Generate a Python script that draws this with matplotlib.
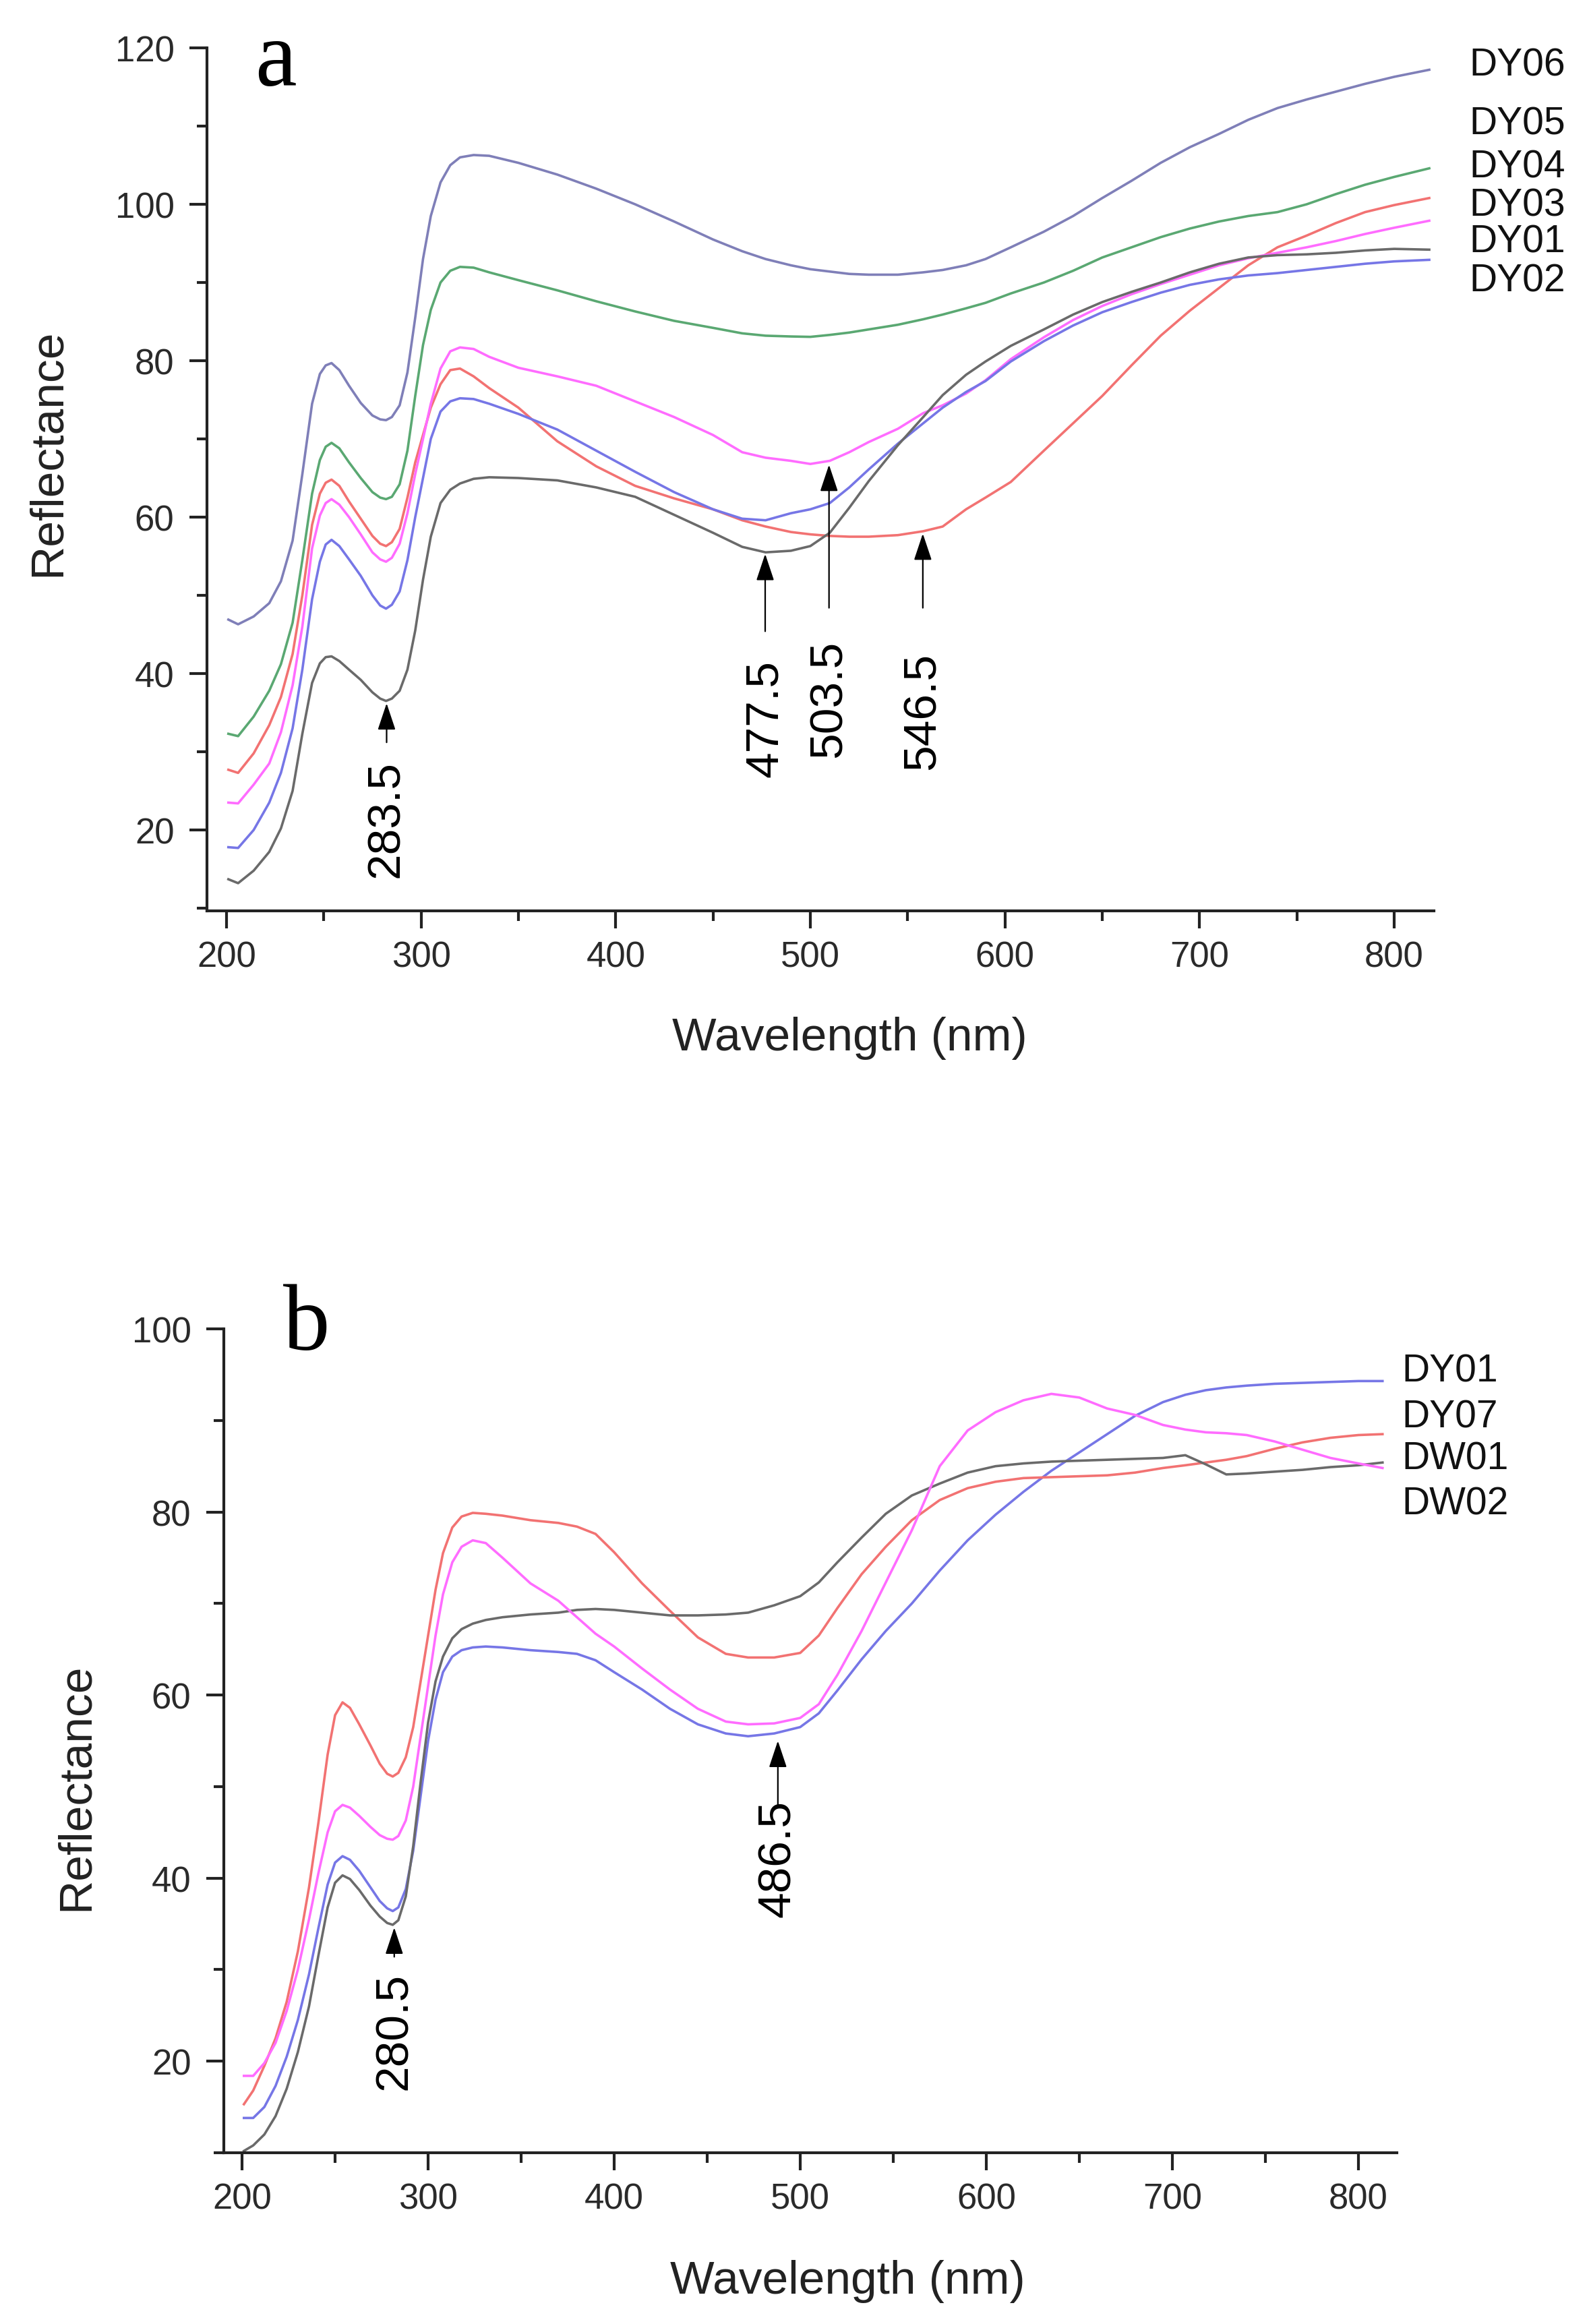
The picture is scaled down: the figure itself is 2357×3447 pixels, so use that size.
import matplotlib
matplotlib.use("Agg")
import matplotlib.pyplot as plt
from matplotlib.ticker import MultipleLocator

plt.rcParams['font.family'] = ['Liberation Sans', 'DejaVu Sans']

# ---------------- data : panel a ----------------
wl_a = [201, 206, 214, 222, 228, 234, 239, 244, 248, 251, 254, 258, 263, 269, 275, 279,
        282, 285, 289, 293, 297, 301, 305, 310, 315, 320, 327, 335,
        350, 370, 390, 410, 430, 450, 465, 477, 490, 500, 510, 520, 530, 545, 558, 568,
        580, 590, 603, 620, 635, 650, 665, 680, 695, 710, 725, 740, 755, 770, 785, 800, 818]

a_purple = [46.9, 46.3, 47.3, 49.0, 51.8, 57.0, 65.5, 74.5, 78.3, 79.4, 79.7, 78.8, 76.8, 74.6, 73.0, 72.5,
            72.4, 72.8, 74.3, 78.5, 85.5, 93.0, 98.5, 102.8, 105.0, 106.0, 106.3, 106.2,
            105.3, 103.8, 102.0, 100.0, 97.8, 95.5, 94.0, 93.0, 92.2, 91.7, 91.4, 91.1, 91.0, 91.0, 91.3, 91.6,
            92.2, 93.0, 94.5, 96.5, 98.5, 100.8, 103.0, 105.3, 107.3, 109.0, 110.8, 112.3, 113.4, 114.4, 115.4,
            116.3, 117.2]
a_green = [32.3, 32.0, 34.5, 37.8, 41.2, 46.5, 54.5, 63.0, 67.3, 69.0, 69.5, 68.8, 67.0, 65.0, 63.2, 62.5,
           62.3, 62.6, 64.2, 68.5, 75.5, 82.0, 86.5, 90.0, 91.5, 92.0, 91.9, 91.3,
           90.3, 89.0, 87.6, 86.3, 85.1, 84.2, 83.5, 83.2, 83.1, 83.05, 83.3, 83.6, 84.0, 84.6, 85.3, 85.9,
           86.7, 87.4, 88.6, 90.0, 91.5, 93.2, 94.5, 95.8, 96.9, 97.8, 98.5, 99.0, 100.0, 101.3, 102.5,
           103.5, 104.6]
a_red = [27.7, 27.3, 29.8, 33.4, 37.0, 42.5, 50.0, 59.0, 63.0, 64.4, 64.8, 64.0, 62.0, 59.8, 57.6, 56.6,
         56.3, 56.8, 58.5, 62.5, 67.0, 70.5, 74.0, 77.0, 78.8, 79.0, 78.0, 76.5,
         74.0, 69.7, 66.5, 64.0, 62.4, 61.0, 59.6, 58.8, 58.1, 57.8, 57.6, 57.5, 57.5, 57.7, 58.2, 58.8,
         61.0, 62.5, 64.5, 68.5, 72.0, 75.5, 79.4, 83.2, 86.4, 89.3, 92.2, 94.5, 96.0, 97.6, 99.0,
         99.9, 100.8]
a_pink = [23.5, 23.4, 25.8, 28.5, 32.5, 38.5, 46.0, 56.0, 60.2, 61.8, 62.3, 61.6, 60.0, 57.8, 55.5, 54.6,
          54.3, 54.8, 56.6, 60.5, 65.5, 70.0, 74.5, 79.0, 81.2, 81.7, 81.5, 80.5,
          79.1, 78.0, 76.8, 74.8, 72.8, 70.5, 68.3, 67.6, 67.2, 66.8, 67.2, 68.3, 69.6, 71.3, 73.3, 74.3,
          75.8, 77.5, 80.2, 83.0, 85.2, 87.0, 88.5, 89.8, 91.0, 92.2, 93.1, 93.8, 94.5, 95.3, 96.2,
          97.0, 97.9]
a_gray = [13.7, 13.2, 14.8, 17.2, 20.2, 25.0, 32.3, 38.8, 41.3, 42.1, 42.2, 41.6, 40.5, 39.2, 37.6, 36.8,
          36.5, 36.8, 37.8, 40.5, 45.5, 52.0, 57.5, 61.8, 63.5, 64.3, 64.9, 65.1,
          65.0, 64.7, 63.8, 62.6, 60.3, 58.0, 56.2, 55.5, 55.7, 56.3, 58.0, 61.2, 64.6, 69.2, 72.8, 75.6,
          78.2, 79.9, 81.9, 84.0, 85.9, 87.5, 88.8, 90.0, 91.3, 92.4, 93.2, 93.5, 93.6, 93.8, 94.1,
          94.3, 94.2]
a_blue = [17.8, 17.7, 20.0, 23.5, 27.3, 33.0, 40.5, 49.5, 54.3, 56.5, 57.1, 56.3, 54.6, 52.5, 50.0, 48.7,
          48.3, 48.8, 50.5, 54.5, 60.0, 65.0, 70.0, 73.5, 74.8, 75.2, 75.1, 74.5,
          73.2, 71.2, 68.5, 65.8, 63.2, 61.0, 59.8, 59.6, 60.5, 61.0, 61.8, 63.8, 66.1, 69.4, 72.0, 74.0,
          76.0, 77.4, 79.9, 82.5, 84.5, 86.2, 87.5, 88.7, 89.7, 90.4, 90.9, 91.2, 91.6, 92.0, 92.4,
          92.7, 92.9]

labels_a = ['DY06', 'DY05', 'DY04', 'DY03', 'DY01', 'DY02']
label_y_a = [117.8, 110.3, 104.8, 99.9, 95.2, 90.2]
peaks_a = ['283.5', '477.5', '503.5', '546.5']
peak_x_a = [282.3, 476.8, 509.6, 557.8]
peak_tip_a = [36.2, 55.3, 66.7, 57.9]
peak_tail_a = [31.2, 45.4, 48.4, 48.4]
peak_text_y_a = [21.5, 34.3, 36.8, 35.3]

# ---------------- data : panel b ----------------
wl_b = [201, 206, 212, 218, 224, 230, 236, 241, 246, 250, 254, 258, 263, 269, 274, 278,
        281, 284, 288, 292, 296, 300, 304, 308, 313, 318, 324, 331, 340, 355, 370, 380,
        390, 400, 415, 430, 445, 460, 472, 486, 500, 510, 520, 533, 546, 560, 575, 590,
        605, 620, 635, 650, 665, 680, 695, 707, 718, 729, 740, 755, 770, 785, 800, 813]

b_blue = [13.8, 13.8, 15.0, 17.3, 20.5, 24.5, 29.5, 34.5, 39.3, 41.7, 42.4, 42.0, 40.8, 39.0, 37.5, 36.7,
          36.4, 36.8, 38.8, 43.0, 49.0, 55.0, 59.5, 62.5, 64.2, 64.9, 65.2, 65.3, 65.2, 64.9, 64.7, 64.5,
          63.8, 62.5, 60.6, 58.5, 56.8, 55.8, 55.5, 55.8, 56.5, 58.0, 60.5, 63.9, 67.0, 70.0, 73.6, 76.9,
          79.7, 82.2, 84.5, 86.5, 88.5, 90.5, 92.0, 92.8, 93.3, 93.6, 93.8, 94.0, 94.1, 94.2, 94.3, 94.3]
b_red = [15.3, 16.8, 19.5, 22.5, 26.5, 32.0, 39.0, 46.0, 53.5, 57.8, 59.2, 58.6, 56.8, 54.5, 52.5, 51.4,
         51.1, 51.5, 53.2, 56.5, 61.5, 66.5, 71.5, 75.5, 78.3, 79.5, 79.9, 79.8, 79.6, 79.1, 78.8, 78.4,
         77.6, 75.6, 72.2, 69.2, 66.3, 64.5, 64.1, 64.1, 64.6, 66.5, 69.5, 73.2, 76.2, 79.1, 81.3, 82.6,
         83.3, 83.7, 83.8, 83.9, 84.0, 84.3, 84.8, 85.1, 85.4, 85.7, 86.1, 86.9, 87.6, 88.1, 88.4, 88.5]
b_gray = [10.2, 10.8, 12.0, 14.0, 17.0, 21.0, 26.0, 31.5, 36.8, 39.5, 40.3, 39.9, 38.7, 37.0, 35.8, 35.1,
          34.9, 35.4, 38.0, 43.5, 50.5, 57.0, 61.5, 64.2, 66.2, 67.2, 67.8, 68.2, 68.5, 68.8, 69.0, 69.3,
          69.4, 69.3, 69.0, 68.7, 68.7, 68.8, 69.0, 69.8, 70.8, 72.3, 74.5, 77.2, 79.8, 81.8, 83.1, 84.3,
          85.0, 85.3, 85.5, 85.6, 85.7, 85.8, 85.9, 86.2, 85.2, 84.1, 84.2, 84.4, 84.6, 84.9, 85.1, 85.4]
b_pink = [18.4, 18.4, 19.8, 22.0, 25.5, 30.0, 35.5, 40.5, 45.0, 47.3, 48.0, 47.7, 46.8, 45.6, 44.7, 44.3,
          44.2, 44.6, 46.3, 50.0, 55.5, 61.0, 66.5, 71.0, 74.5, 76.2, 76.9, 76.6, 75.0, 72.2, 70.3, 68.5,
          66.7, 65.3, 62.9, 60.6, 58.5, 57.1, 56.8, 56.9, 57.5, 59.0, 62.2, 67.0, 72.3, 78.0, 85.0, 88.9,
          90.9, 92.2, 92.9, 92.5, 91.3, 90.6, 89.5, 89.0, 88.7, 88.6, 88.4, 87.7, 86.8, 85.9, 85.3, 84.8]

labels_b = ['DY01', 'DY07', 'DW01', 'DW02']
label_y_b = [95.4, 90.4, 85.8, 80.9]
peaks_b = ['280.5', '486.5']
peak_x_b = [281.8, 488.0]
peak_tip_b = [34.6, 55.0]
peak_tail_b = [31.4, 48.0]
peak_text_y_b = [23.3, 42.2]

# ---------------- styles ----------------
C_PURPLE = '#7f7fb8'
C_GREEN = '#5aa872'
C_RED = '#f27272'
C_PINK = '#ff6cff'
C_GRAY = '#6a6a6a'
C_BLUE = '#7676e6'

W, H = 2357, 3448
fig = plt.figure(figsize=(W / 100, H / 100), dpi=100)

axA = fig.add_axes([307 / W, 1 - 1352 / H, (2127 - 307) / W, (1352 - 72) / H])
axB = fig.add_axes([332 / W, 1 - 3194 / H, (2072 - 332) / W, (3194 - 1972) / H])

LW = 2.6
for ys, c in [(a_purple, C_PURPLE), (a_green, C_GREEN), (a_red, C_RED),
              (a_pink, C_PINK), (a_blue, C_BLUE), (a_gray, C_GRAY)]:
    axA.plot(wl_a, ys, color=c, lw=LW, solid_joinstyle='round')

for ys, c in [(b_blue, C_BLUE), (b_red, C_RED), (b_gray, C_GRAY), (b_pink, C_PINK)]:
    axB.plot(wl_b, ys, color=c, lw=LW, solid_joinstyle='round')


def style_axes(ax, xlim, ylim, ymajor):
    ax.set_xlim(*xlim)
    ax.set_ylim(*ylim)
    ax.spines['top'].set_visible(False)
    ax.spines['right'].set_visible(False)
    for s in ('left', 'bottom'):
        ax.spines[s].set_linewidth(3.0)
        ax.spines[s].set_color('#222222')
    ax.xaxis.set_major_locator(MultipleLocator(100))
    ax.xaxis.set_minor_locator(MultipleLocator(50))
    ax.yaxis.set_major_locator(MultipleLocator(ymajor))
    ax.yaxis.set_minor_locator(MultipleLocator(10))
    ax.tick_params(which='major', direction='out', length=19, width=3.0,
                   color='#222222', labelsize=38, labelcolor='#2a2a2a', pad=12)
    ax.tick_params(which='minor', direction='out', length=11, width=3.0, color='#222222')
    ax.tick_params(axis='y', which='major', pad=16)


style_axes(axA, (190.0, 820.4), (9.66, 120), 20)
style_axes(axB, (190.2, 820.7), (10.0, 100), 20)

# series labels
for name, y in zip(labels_a, label_y_a):
    axA.text(838.7, y, name, fontsize=41, va='center', ha='left', clip_on=False, color='#111111')
for name, y in zip(labels_b, label_y_b):
    axB.text(823.5, y, name, fontsize=41, va='center', ha='left', clip_on=False, color='#111111')


# arrows and peak labels
def peak_marks(ax, names, xs, tips, tails, texty):
    for n, x, t0, t1, ty in zip(names, xs, tips, tails, texty):
        ax.annotate('', xy=(x, t0), xytext=(x, t1),
                    arrowprops=dict(arrowstyle='-|>,head_length=0.45,head_width=0.15',
                                    color='black', lw=1.6, mutation_scale=55,
                                    shrinkA=0, shrinkB=0))
        ax.text(x, ty, n, rotation=90, fontsize=50, ha='center', va='center', color='black')


peak_marks(axA, peaks_a, peak_x_a, peak_tip_a, peak_tail_a, peak_text_y_a)
peak_marks(axB, peaks_b, peak_x_b, peak_tip_b, peak_tail_b, peak_text_y_b)

# panel letters
fig.text(378 / W, 1 - 127 / H, 'a', fontsize=100, family='Liberation Serif', ha='left', va='baseline')
fig.text(420 / W, 1 - 2002 / H, 'b', fontsize=100, family='Liberation Serif', ha='left', va='baseline')

# axis labels
fig.text(71 / W, 1 - 671 / H, 'Reflectance', rotation=90, fontsize=50, ha='center', va='center', color='#222222')
fig.text(113 / W, 1 - 2650 / H, 'Reflectance', rotation=90, fontsize=50, ha='center', va='center', color='#222222')
fig.text(1260 / W, 1 - 1540 / H, 'Wavelength (nm)', fontsize=50, ha='center', va='center', color='#222222')
fig.text(1257 / W, 1 - 3384 / H, 'Wavelength (nm)', fontsize=50, ha='center', va='center', color='#222222')

fig.savefig('out.png', dpi=100, facecolor='white')
